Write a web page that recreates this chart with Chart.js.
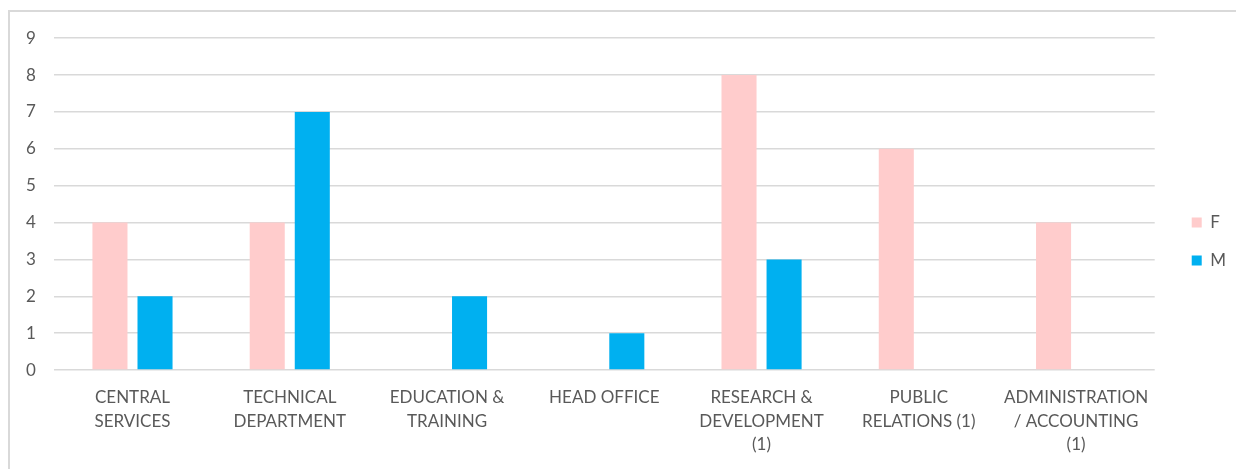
<!DOCTYPE html>
<html>
<head>
<meta charset="utf-8">
<script src="https://cdn.jsdelivr.net/npm/chart.js@4.4.1/dist/chart.umd.min.js"></script>
<style>
  html, body { margin: 0; padding: 0; background: #fff; width: 1236px; height: 469px; overflow: hidden; }
  #frame { position: absolute; left: 8px; top: 10px; width: 1240px; height: 480px;
           border-left: 2px solid #D9D9D9; border-top: 2px solid #D9D9D9; box-sizing: border-box; }
  #wrap { position: absolute; left: 8px; top: 10px; width: 1228px; height: 457px; }
</style>
</head>
<body>
<div id="frame"></div>
<div id="wrap"><canvas id="c"></canvas></div>
<script>
const categories = [
  ["CENTRAL", "SERVICES"],
  ["TECHNICAL", "DEPARTMENT"],
  ["EDUCATION &", "TRAINING"],
  ["HEAD OFFICE"],
  ["RESEARCH &", "DEVELOPMENT", "(1)"],
  ["PUBLIC", "RELATIONS (1)"],
  ["ADMINISTRATION", "/ ACCOUNTING", "(1)"]
];
const seriesF = [4, 4, null, null, 8, 6, 4];
const seriesM = [2, 7, 2, 1, 3, null, null];
const yTicks = [0, 1, 2, 3, 4, 5, 6, 7, 8, 9];

const FONT = "Lato, 'Liberation Sans', sans-serif";

// nudge the legend block to where the reference places it
const legendShift = {
  id: 'legendShift',
  afterLayout(chart) {
    const lg = chart.legend;
    if (!lg) return;
    const dx = 16, dy = -8;
    lg.left += dx; lg.right += dx;
    lg.top += dy; lg.bottom += dy;
  }
};

new Chart(document.getElementById('c'), {
  type: 'bar',
  data: {
    labels: categories,
    datasets: [
      { label: 'F', data: seriesF, backgroundColor: '#FFCCCC', categoryPercentage: 0.573, barPercentage: 0.778 },
      { label: 'M', data: seriesM, backgroundColor: '#00B0F0', categoryPercentage: 0.573, barPercentage: 0.778 }
    ]
  },
  plugins: [legendShift],
  options: {
    responsive: true,
    maintainAspectRatio: false,
    animation: false,
    layout: { padding: { left: 0, top: 25, right: 16, bottom: 3 } },
    plugins: {
      tooltip: { enabled: false },
      legend: {
        position: 'right',
        align: 'center',
        labels: {
          boxWidth: 10, boxHeight: 10, padding: 21,
          color: '#595959',
          font: { family: FONT, size: 17 }
        }
      }
    },
    scales: {
      x: {
        grid: { display: false },
        border: { display: false },
        ticks: {
          color: '#595959', maxRotation: 0, minRotation: 0, autoSkip: false,
          padding: 7,
          font: { family: FONT, size: 17, lineHeight: 1.41 }
        }
      },
      y: {
        min: 0, max: 9,
        afterBuildTicks: (axis) => { axis.ticks = yTicks.map(v => ({ value: v })); },
        grid: { color: '#D9D9D9', lineWidth: 1.5, drawTicks: false },
        border: { display: false },
        ticks: {
          color: '#595959', padding: 18,
          font: { family: FONT, size: 17 }
        }
      }
    }
  }
});
</script>
</body>
</html>
